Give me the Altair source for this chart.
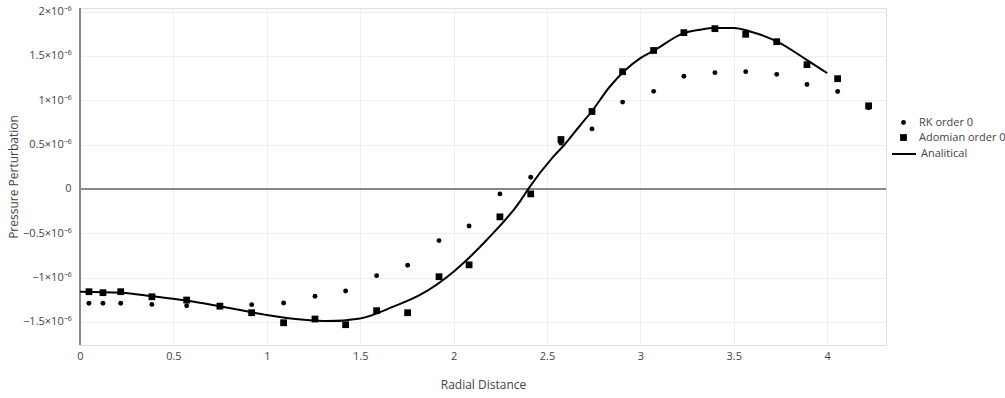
import altair as alt
import pandas as pd

# ---- data (values in units of 1e-6) ----
x_pts = [0.048, 0.123, 0.218, 0.385, 0.571, 0.749, 0.919, 1.090, 1.258, 1.422,
         1.588, 1.754, 1.922, 2.083, 2.248, 2.413, 2.575, 2.741, 2.905, 3.071,
         3.233, 3.399, 3.564, 3.730, 3.892, 4.056, 4.222]
rk_vals = [-1.290, -1.290, -1.290, -1.302, -1.317, -1.312, -1.305, -1.287, -1.211, -1.151,
           -0.978, -0.861, -0.583, -0.418, -0.056, 0.132, 0.516, 0.677, 0.979, 1.100,
           1.270, 1.311, 1.322, 1.292, 1.177, 1.098, 0.914]
adomian_vals = [-1.159, -1.170, -1.159, -1.216, -1.253, -1.322, -1.396, -1.509, -1.467, -1.531,
                -1.373, -1.396, -0.990, -0.856, -0.315, -0.056, 0.557, 0.873, 1.322, 1.561,
                1.762, 1.807, 1.744, 1.660, 1.401, 1.243, 0.937]
ana_x = [0.0, 0.221, 0.382, 0.578, 0.739, 0.857, 1.0, 1.214, 1.321, 1.5,
         1.677, 1.82, 2.0, 2.177, 2.355, 2.40, 2.534, 2.596, 2.677, 2.739,
         2.837, 3.0, 3.073, 3.233, 3.319, 3.399, 3.5, 3.587, 3.73, 3.89, 4.0]
ana_y = [-1.159, -1.170, -1.208, -1.261, -1.320, -1.366, -1.422, -1.479, -1.490, -1.460,
         -1.328, -1.196, -0.933, -0.576, -0.143, 0.0, 0.364, 0.504, 0.715, 0.873,
         1.155, 1.475, 1.561, 1.757, 1.795, 1.814, 1.814, 1.776, 1.663, 1.456, 1.306]
point_series = ["RK order 0", "Adomian order 0"]
line_series = ["Analitical"]
x_ticks = [0, 0.5, 1, 1.5, 2, 2.5, 3, 3.5, 4]
y_ticks = [-1.5e-6, -1e-6, -0.5e-6, 0, 0.5e-6, 1e-6, 1.5e-6, 2e-6]

E = 1e-6
n = len(x_pts)
pts = pd.DataFrame({
    "x": x_pts + x_pts,
    "y": [v * E for v in rk_vals] + [v * E for v in adomian_vals],
    "series": [point_series[0]] * n + [point_series[1]] * n,
})
line_df = pd.DataFrame({"x": ana_x, "y": [v * E for v in ana_y],
                        "series": line_series * len(ana_x)})

FONT = "Open Sans"
TXT = "#444"

xscale = alt.Scale(domain=[0, 4.315], nice=False, zero=False)
yscale = alt.Scale(domain=[-1.76e-6, 2.04e-6], nice=False, zero=False)

xaxis = alt.Axis(values=x_ticks, title="Radial Distance", grid=True, gridColor="#eeeeee",
                 domain=False, ticks=False, labelFont=FONT, labelFontSize=11,
                 labelColor=TXT, labelPadding=5, titleFont=FONT, titleFontSize=12,
                 titleColor=TXT, titleFontWeight="normal", titlePadding=18,
                 format="~g", labelFlush=False)
yaxis = alt.Axis(values=y_ticks, title="Pressure Perturbation", grid=True, gridColor="#eeeeee",
                 domain=False, ticks=False, labelFont=FONT, labelFontSize=11,
                 labelColor=TXT, labelPadding=9, titleFont=FONT, titleFontSize=12,
                 titleColor=TXT, titleFontWeight="normal", titlePadding=2,
                 labelExpr="datum.value == 0 ? '0' : replace(format(datum.value * 1000000, '~g'), '-', '\u2212') + '\u00d710\u207b\u2076'",
                 labelFlush=False)

pt_legend = alt.Legend(title=None, orient="none", legendX=818, legendY=109,
                       labelFont=FONT, labelFontSize=11, labelColor=TXT,
                       symbolFillColor="black", symbolStrokeColor="black",
                       symbolOpacity=1, rowPadding=3, labelOffset=10)
ln_legend = alt.Legend(title=None, orient="none", legendX=811, legendY=133,
                       labelFont=FONT, labelFontSize=11, labelColor=TXT,
                       symbolType="stroke", symbolStrokeColor="black",
                       symbolStrokeWidth=2, symbolSize=576, labelOffset=4)

zero_h = alt.Chart(line_df).mark_rule(color="#888", strokeWidth=1.6).encode(y=alt.datum(0))
zero_v = alt.Chart(line_df).mark_rule(color="#888", strokeWidth=1.6).encode(x=alt.datum(0))

line = alt.Chart(line_df).mark_line(strokeWidth=2, interpolate="monotone").encode(
    x=alt.X("x:Q", scale=xscale, axis=xaxis),
    y=alt.Y("y:Q", scale=yscale, axis=yaxis),
    color=alt.Color("series:N", scale=alt.Scale(domain=line_series, range=["black"]),
                    legend=ln_legend),
)

points = alt.Chart(pts).mark_point(filled=True, fill="black", opacity=1, strokeWidth=0).encode(
    x=alt.X("x:Q", scale=xscale, axis=xaxis),
    y=alt.Y("y:Q", scale=yscale, axis=yaxis),
    shape=alt.Shape("series:N",
                    scale=alt.Scale(domain=point_series, range=["circle", "square"]),
                    legend=pt_legend),
    size=alt.Size("series:N", scale=alt.Scale(domain=point_series, range=[24, 46]),
                  legend=pt_legend),
)

chart = alt.layer(zero_v, zero_h, line, points).properties(
    width=806, height=337,
    autosize=alt.AutoSizeParams(type="none"),
    padding={"left": 80, "top": 8, "right": 119, "bottom": 53},
).configure_view(stroke=None).configure(background="white")

chart.save("out.html", embed_options={"renderer": "svg", "actions": False})
